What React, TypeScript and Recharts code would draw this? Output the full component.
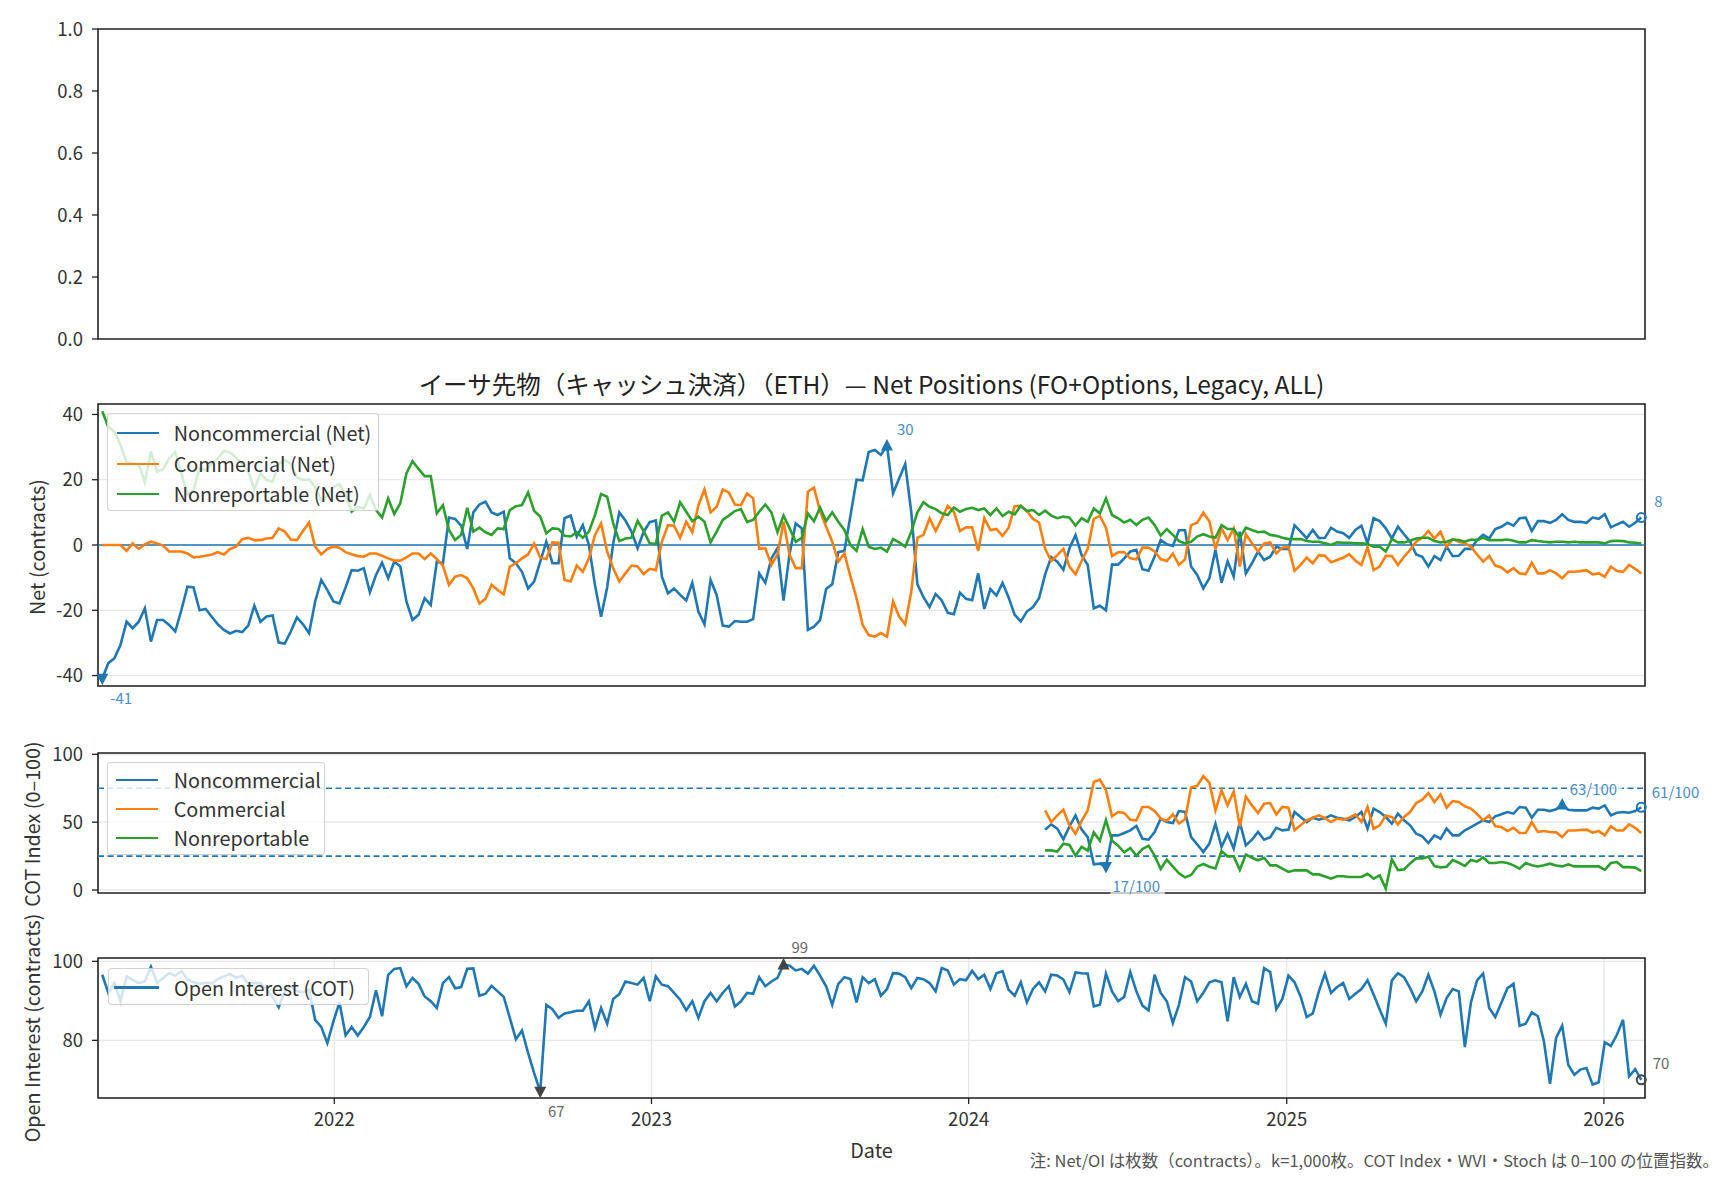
import React from "react";
import {
  LineChart,
  Line,
  XAxis,
  YAxis,
  CartesianGrid,
  ReferenceLine,
  ReferenceDot,
  ReferenceArea,
} from "recharts";

const FONT = "'Noto Sans CJK JP', 'Noto Sans', sans-serif";
const C0 = "#1f77b4";
const C1 = "#ff7f0e";
const C2 = "#2ca02c";
const SPINE = "#222";
const TXT = "#333";

const DAY = 86400000;
const WEEK = 7 * DAY;
const START = Date.UTC(2021, 3, 9);
const YEARS = [2022, 2023, 2024, 2025, 2026];
const YEAR_TICKS = YEARS.map((y) => Date.UTC(y, 0, 1));
const X_MIN = Date.UTC(2022, 0, 1) - 271.9 * DAY;
const X_MAX = Date.UTC(2026, 0, 1) + 47.3 * DAY;

// Net positions (contracts), weekly
const NONCOMM = [
  -41, -36.2, -34.7, -30.6, -23.5, -25.5, -23.5, -19.4, -29.6, -23,
  -23, -24.5, -26.5, -20, -12.8, -13, -20, -19.6, -22, -24.3,
  -26, -27.1, -26.3, -26.7, -24.7, -18.6, -23.5, -21.9, -21.6, -29.9,
  -30.2, -26.5, -22.2, -24.3, -27, -17.3, -10.7, -13.8, -17.3, -17.9,
  -13, -7.7, -7.9, -7.1, -14.5, -9.2, -5.4, -10.2, -5.1, -6.6,
  -17.3, -23, -21.4, -16.3, -18.4, -5.1, -5.6, 8.4, 8, 5.9,
  -1.2, 10, 12.4, 13.3, 10, 9.2, 10.2, -4.1, -5.6, -8.2,
  -13.3, -11.2, -5.1, 1, -5.6, -5.6, 8.2, 9, 2.6, 6.1,
  0, -12.3, -22, -13, 0.5, 10, 7.5, 4.1, -1, 4,
  7, 7.5, -9.7, -14.8, -13.3, -15.3, -17, -11.6, -20.4, -24.3,
  -10.7, -15.3, -24.7, -25, -23.3, -23.5, -23.5, -22.7, -8.7, -11.6,
  -4.1, -1, -17, -2.5, 6.6, 5.1, -26, -25, -23, -13.5,
  -12, -2.2, -1.8, 9, 20, 19.8, 28.5, 29.1, 27.6, 30.5,
  15.8, 20.4, 24.8, 10, -12, -16, -19, -15, -17, -20.8,
  -21.2, -14.6, -16.5, -16.9, -8.7, -19.6, -13.5, -15.5, -11.6, -16.1,
  -21.4, -23.4, -20.4, -19, -16.3, -9, -3.7, -5.1, -7.6, -1,
  3, -3.1, -6.1, -19.4, -18.6, -20, -6, -6, -4.1, -2,
  -1.5, -7.4, -7.9, -3.5, 1.5, 0.2, -0.3, 4.5, 4.5, -6.6,
  -9.2, -13.3, -10.2, -1.5, -11.6, -5, -9.7, 4.1, -8.7, -5.6,
  -2, -4.6, -3.6, -0.5, -1.2, -1.2, 6, 4.1, 2.1, 4.6,
  2.1, 2.2, 5.3, 4.1, 3.6, 2.2, 4.6, 5.9, 0.5, 8.2,
  7.3, 5.1, 2, 5.6, 3.3, 1, -2.9, -3.6, -6.6, -3.4,
  -4.6, -0.5, -3.4, -3.3, -1.2, -1.2, 1.5, 3.1, 2, 4.9,
  5.6, 6.8, 5.9, 8.2, 8.4, 4.3, 7.3, 7.3, 6.8, 7.7,
  9.4, 7.7, 7.1, 7.1, 6.8, 8.4, 8, 9.4, 5.4, 6.3,
  7.1, 5.6, 6.8, 8.4,
];

const COMM = [
  0, 0, 0, 0, -1.8, 0.5, -1.2, 0.2, 1, 0.5,
  -0.2, -2, -2, -2, -2.6, -3.8, -3.6, -3.3, -2.9, -2.2,
  -2.9, -1.2, -0.5, 1.8, 2.2, 1.5, 1.5, 2, 2.2, 5.1,
  4.1, 1.7, 1.5, 4.3, 6.9, -0.5, -2.9, -1.2, -0.5, -0.8,
  -2.2, -2.8, -3.4, -3.6, -2.6, -2.6, -3.3, -4.1, -4.8, -4.8,
  -3.8, -2.6, -2.6, -4.3, -2.6, -4.3, -6.3, -12.2, -9.7, -9.2,
  -10.2, -13.3, -17.9, -16.5, -12.2, -13.8, -15.1, -6.6, -5.6, -4.1,
  -2.9, 0.5, -3.9, -4.3, 0.8, 0.7, -10.7, -11.2, -6.3, -8.2,
  -4.1, 3.1, 6.6, -2, -7.1, -11.2, -8.7, -6.3, -6.6, -8.9,
  -7.3, -7.7, 1, 6.1, 5.9, 2.2, 7.1, 3.9, 12.2, 17,
  10, 11.7, 17, 16.1, 12.4, 12.2, 15.8, 14.3, -1.2, -1,
  -6.1, -2.9, 7.1, -3.1, -7.1, -7.1, 16.3, 17.6, 10.4, 5.6,
  1, -5.1, -2.6, -9.7, -16.3, -24.5, -27.6, -28.1, -27, -28.1,
  -17.3, -21.9, -24.3, -14.3, 2.2, 3.1, 8.2, 4.3, 8, 12,
  10.2, 4.3, 5.4, 5.4, -1.8, 8.2, 4.6, 4.9, 2.8, 5.3,
  11.9, 12, 10.4, 8, 6.9, -1.2, -4.9, -3.1, -1.2, -6.6,
  -9, -4.9, -1.2, 8, 8.9, 5.3, -3.4, -2.2, -2.2, -4.1,
  -4.4, -0.8, -0.8, -2, -4.3, -4.9, -2.6, -6.1, -4.4, 6.1,
  6.8, 9.9, 7.3, -1.3, 5.1, 1.5, 5.1, -6.6, 3.3, 0.5,
  -2, 0.5, 0.8, -2.6, -0.8, -0.5, -7.9, -6.1, -3.9, -5.6,
  -3.1, -3.3, -5.3, -4.6, -3.9, -2.8, -4.8, -6.1, -0.7, -7.7,
  -6.6, -3.3, -3.4, -6.1, -3.6, -1.5, 1, 2.2, 4.3, 2,
  4.1, -0.5, 1.8, 1, 0.5, -0.5, -2.9, -5.1, -3.3, -6.3,
  -6.9, -8.4, -7.1, -8.7, -8.9, -5.4, -8.7, -8.7, -7.7, -8.7,
  -10.2, -8.2, -8.2, -8, -7.7, -9, -8.7, -9.7, -6.6, -8,
  -8.2, -6.1, -7.3, -8.7,
];

const NONREP = [
  41, 36.2, 34.7, 30.6, 25.3, 25, 24.7, 19.2, 28.6, 22.5,
  23.2, 26.5, 28.5, 22, 15.4, 16.8, 23.6, 22.9, 24.9, 26.5,
  28.9, 28.3, 26.8, 24.9, 22.5, 17.1, 22, 19.9, 19.4, 24.8,
  26.1, 24.8, 20.7, 20, 20.1, 17.8, 13.6, 15, 17.8, 18.7,
  15.2, 10.2, 11.7, 11.2, 15.3, 10.7, 8.4, 14.3, 9.5, 12.8,
  21.9, 25.7, 23.3, 21.1, 21.1, 9.7, 12.2, 4.6, 1.5, 3.1,
  11.4, 4.1, 5.3, 3.9, 3.1, 5.1, 4.9, 10.7, 11.9, 12.2,
  16.1, 10.4, 8.7, 3.6, 5.1, 4.9, 2.8, 2.6, 3.9, 2.2,
  4.1, 9.2, 15.6, 14.8, 6.6, 1.2, 2, 2.2, 7.4, 4.3,
  0.5, 0.3, 9, 10, 7.1, 13.1, 10.2, 7.3, 8.7, 7.1,
  0.8, 4.1, 7.7, 9, 10.4, 11, 7.1, 7.7, 10.2, 12.4,
  10, 3.9, 9, 5.1, 1, 2.2, 9.7, 7.3, 11.5, 7.3,
  10, 7.1, 4.6, 0, -1.8, 4.9, -0.5, -1.2, -0.8, -2,
  1.8, 0.8, -0.5, 4.1, 10, 13.1, 11.7, 11, 9.7, 9.2,
  11.5, 10.2, 11, 11.4, 10.7, 11.2, 9.2, 11.2, 8.9, 10.2,
  9.4, 12, 10.4, 10.7, 9.2, 10.5, 9, 8.2, 8.7, 8.4,
  5.9, 8.2, 7.1, 11.2, 9.7, 14.3, 9.2, 8.2, 6.9, 7.7,
  6.1, 7.7, 8.4, 6.1, 2.9, 4.9, 3.1, 1.2, 0.5, 1,
  2.6, 3.3, 2.6, 2.2, 6.1, 4.9, 4.9, 2.2, 5.3, 4.6,
  3.9, 4.1, 3.1, 2.8, 2.2, 1.8, 1.8, 1.8, 1.2, 1,
  1, 0.5, 0, 0.8, 0.7, 0.7, 0.5, 0.5, 0.3, -0.5,
  -0.5, -2, 1.8, 0.8, 0.8, 1.3, 2, 2.2, 2.2, 1.2,
  0.8, 1, 1.7, 1.5, 1, 1.7, 1.5, 2.2, 1.5, 1.5,
  1.5, 1.7, 1.3, 0.8, 0.8, 1.5, 1.2, 1, 0.8, 1,
  1, 0.8, 1, 0.8, 0.8, 0.8, 0.8, 0.5, 1.2, 1.3,
  1.2, 0.8, 0.7, 0.5,
];

// Open interest (COT)
const OPEN_INT = [
  96.6, 92, 94.5, 89.9, 96.2, 95.4, 94.5, 94.9, 98.6, 94.5,
  95.8, 97, 96.4, 97.5, 95.5, 94.7, 94.3, 94.5, 94.5, 95.5,
  96.2, 96.8, 95.8, 96.4, 94.3, 94.5, 94.5, 93, 91, 88.4,
  92.4, 93.7, 92.4, 92.2, 92.8, 85.2, 83.4, 79.3, 84.8, 89.6,
  81.3, 83.4, 81.2, 83.4, 85.9, 92.7, 86.1, 96.6, 98.1, 98.3,
  93.7, 95.8, 94.3, 91.1, 89.9, 88.2, 94.5, 96, 93.2, 93.5,
  98.1, 98.2, 91.3, 91.8, 93.8, 92.4, 91, 85.7, 80.3, 82.5,
  76.8, 71.7, 67, 89, 87.9, 85.7, 86.8, 87.1, 87.5, 87.5,
  89.9, 83.1, 88.2, 84.2, 90.5, 91.7, 94.9, 94.5, 94.1, 95.8,
  89.9, 96.2, 94.1, 93.7, 92, 90.3, 87.6, 89.9, 85.7, 89.9,
  92, 89.9, 92, 93.7, 88.6, 89.9, 92, 91.8, 96, 93.7,
  94.9, 95.8, 99.2, 98.9, 97.7, 98.1, 96.9, 98.9, 96.4, 93.7,
  89, 94.3, 96, 95.5, 89.6, 96, 94.5, 95.5, 91.3, 93,
  97, 96.9, 96, 93.2, 95.8, 95.5, 94.5, 92.4, 98.3, 97.7,
  94.1, 95.5, 95.2, 97.6, 95.5, 96.6, 93, 97, 97.5, 92.8,
  91.3, 94.7, 89.6, 93, 94.7, 92.4, 96.6, 96.4, 95.4, 92.2,
  97.2, 97, 96.9, 88.6, 89, 96.9, 92.4, 89.9, 91, 97.3,
  92.4, 88.8, 87.6, 96.6, 92, 89.9, 84.4, 89, 96, 94.9,
  89.9, 92, 94.7, 95.2, 94.7, 84.8, 96, 91, 94.3, 89.9,
  89.3, 98.3, 97.3, 87.9, 90.5, 96.4, 94.7, 91.1, 85.9, 86.8,
  92.4, 96.9, 92, 93.5, 94.5, 90.5, 91.8, 93, 95.2, 91.6,
  87.8, 84.2, 95.2, 97, 96, 93.2, 89.9, 92.4, 96.6, 92.4,
  86.5, 90.7, 93, 92.4, 78.3, 89.6, 95.2, 96.9, 88.2, 85.9,
  89.5, 93.2, 94.3, 83.7, 84.2, 87.1, 86.1, 79.7, 69, 80.6,
  83.7, 73.8, 71.3, 72.6, 73, 68.8, 69.4, 79.5, 78.6, 81.4,
  85.2, 70.9, 72.7, 70,
];

// COT Index (0-100), starts at week 155
const COT_START = 155;
const COT_NONCOMM = [
  44.5, 48.4, 45.2, 37.3, 46.9, 55, 44.5, 39, 19, 19.4,
  17, 40.3, 40.3, 42, 44, 47.2, 37.8, 37.1, 42.8, 52.6,
  50.1, 49.4, 58.2, 57.5, 39, 33.7, 28, 34.2, 48.9, 31.7,
  41.5, 30.5, 50.1, 32.9, 37.1, 42.8, 37.1, 39, 45.9, 44,
  44.5, 57.5, 53.8, 50.1, 53.3, 51.8, 53, 55, 53.3, 52.6,
  51.4, 53.8, 57.5, 45.2, 60, 57.5, 53.8, 48.9, 56.3, 51.4,
  47.7, 41.5, 39.6, 34.6, 40.3, 37.8, 45.2, 40.3, 40.3, 44,
  46.4, 49, 51.4, 50.1, 54.3, 55.8, 57.5, 56.3, 61.2, 60.7,
  53.3, 59.2, 59.2, 58.2, 59.5, 63, 59.2, 58.7, 58.7, 58.7,
  60.7, 60, 62.4, 55, 57, 57.5, 57, 58.2, 61,
];
const COT_COMM = [
  58.7, 50.1, 55, 59.2, 47.7, 41.5, 50.9, 58.7, 79.6, 81.3,
  73.5, 54.3, 57.5, 56.8, 51.8, 51.4, 61.2, 61.2, 58.2, 52.6,
  50.9, 55.8, 49.1, 52.1, 75.7, 76.7, 84, 79.1, 58.7, 73.5,
  62.4, 72.7, 46.9, 68.8, 62.4, 56.8, 63.6, 64.1, 55.8, 61.2,
  60.7, 44, 47.7, 51.4, 53.3, 55, 53, 50.1, 52.6, 51.8,
  53.3, 55.8, 50.1, 61.2, 45.2, 47.7, 55, 53.8, 48.4, 53.8,
  57.5, 64.1, 66.6, 71.5, 64.9, 70.5, 60.7, 65.6, 64.9, 61.7,
  60, 56, 51.4, 55, 46.9, 46.4, 43.5, 45.9, 42, 42,
  50.1, 42.8, 43.5, 42.8, 42.5, 39, 43.9, 43.9, 44.2, 44.5,
  42.3, 43.5, 40.3, 46.9, 43.9, 43.9, 48.4, 45.9, 42,
];
const COT_NONREP = [
  29.2, 29.2, 28.3, 34.2, 33.2, 25.3, 31.9, 29, 42.5, 36.4,
  51.6, 36.4, 32.7, 27.8, 31, 25.3, 30.2, 32.7, 25.3, 15.5,
  22.4, 17.2, 12.3, 9.3, 11.1, 17.2, 19.2, 17.2, 15.9, 28.8,
  24.8, 24.8, 14.9, 26.2, 23.8, 21.9, 23.8, 18.2, 18.2, 15.7,
  13.3, 14.5, 14.5, 14.5, 11.5, 11.5, 10, 8.4, 10.1, 10.1,
  9.6, 9.6, 9.6, 12, 8.4, 10.8, 1, 22.6, 14.7, 15.2,
  19.6, 23.3, 23.3, 24.6, 17.7, 16.7, 17.2, 22.1, 20.1, 17.7,
  22.1, 21, 24, 19.9, 19.9, 20.6, 19.9, 18.2, 15.7, 19.9,
  18.2, 17.4, 18.2, 19.4, 18, 17.4, 18.9, 17.4, 17.4, 17.4,
  17.4, 17.4, 14.9, 19.9, 20.6, 16.9, 16.9, 16.5, 14,
];

const TITLE =
  "イーサ先物（キャッシュ決済）（ETH）— Net Positions (FO+Options, Legacy, ALL)";
const NOTE =
  "注: Net/OI は枚数（contracts）。k=1,000枚。COT Index・WVI・Stoch は 0–100 の位置指数。";

const rows = NONCOMM.map((v, i) => {
  const k = i - COT_START;
  return {
    t: START + i * WEEK,
    nc: v,
    cm: COMM[i],
    nr: NONREP[i],
    oi: OPEN_INT[i],
    cnc: k >= 0 ? COT_NONCOMM[k] : null,
    ccm: k >= 0 ? COT_COMM[k] : null,
    cnr: k >= 0 ? COT_NONREP[k] : null,
  };
});
const last = rows.length - 1;
const tAt = (i: number) => rows[i].t;

type MarkProps = {
  cx?: number;
  cy?: number;
  kind: "up" | "down" | "circle";
  color: string;
  text: string;
  textColor: string;
  dx: number;
  dy: number;
};

function Mark({ cx = 0, cy = 0, kind, color, text, textColor, dx, dy }: MarkProps) {
  const fs = 15;
  const tx = cx + dx;
  const ty = cy + dy;
  const w = text.length * fs * 0.56 + 4;
  return (
    <g>
      {kind === "up" && (
        <path d={`M${cx},${cy - 6.5} L${cx + 6},${cy + 5} L${cx - 6},${cy + 5} Z`} fill={color} />
      )}
      {kind === "down" && (
        <path d={`M${cx},${cy + 6.5} L${cx + 6},${cy - 5} L${cx - 6},${cy - 5} Z`} fill={color} />
      )}
      {kind === "circle" && (
        <circle cx={cx} cy={cy} r={4.5} fill="none" stroke={color} strokeWidth={2} />
      )}
      <rect x={tx - 2} y={ty - 9} width={w} height={18} fill="#fff" fillOpacity={0.7} />
      <text
        x={tx}
        y={ty}
        fontSize={fs}
        fill={textColor}
        fontFamily={FONT}
        dominantBaseline="central"
      >
        {text}
      </text>
    </g>
  );
}

const tickStyle = { fontSize: 18.5, fill: TXT, fontFamily: FONT };
const PLOT_LEFT_MARGIN = 38;
const PLOT_RIGHT_MARGIN = 83;
const LEGEND_FS = 19.8;
const LABEL_FS = 19.8;

function xAxisBare(h: number) {
  return (
    <XAxis
      dataKey="t"
      type="number"
      domain={[X_MIN, X_MAX]}
      allowDataOverflow
      ticks={YEAR_TICKS}
      interval={0}
      tick={false}
      tickLine={{ stroke: SPINE, strokeWidth: 1.3 }}
      tickSize={6}
      axisLine={false}
      height={h}
    />
  );
}

type LegendItem = { label: string; color: string };
function LegendBox({
  left,
  top,
  width,
  height,
  items,
  rowY,
  handle,
  textX,
}: {
  left: number;
  top: number;
  width: number;
  height: number;
  items: LegendItem[];
  rowY: number[];
  handle: [number, number];
  textX: number;
}) {
  return (
    <div
      style={{
        position: "absolute",
        left,
        top,
        width,
        height,
        background: "rgba(255,255,255,0.8)",
        border: "1px solid rgba(204,204,204,0.9)",
        borderRadius: 4,
        boxSizing: "border-box",
        fontFamily: FONT,
      }}
    >
      {items.map((it, i) => (
        <React.Fragment key={it.label}>
          <div
            style={{
              position: "absolute",
              left: handle[0],
              width: handle[1] - handle[0],
              top: rowY[i] - 1.3,
              height: 2.6,
              background: it.color,
            }}
          />
          <div
            style={{
              position: "absolute",
              left: textX,
              top: rowY[i] - 14,
              height: 28,
              lineHeight: "28px",
              fontSize: LEGEND_FS,
              color: TXT,
              whiteSpace: "nowrap",
            }}
          >
            {it.label}
          </div>
        </React.Fragment>
      ))}
    </div>
  );
}

export default function App() {
  const lineProps = {
    dot: false,
    isAnimationActive: false,
    strokeWidth: 2.6,
    type: "linear" as const,
  };
  const gridProps = { stroke: "#e6e6e6", strokeWidth: 1.3 };
  const frameProps = {
    fill: "none",
    fillOpacity: 0,
    stroke: SPINE,
    strokeWidth: 1.6,
    ifOverflow: "visible" as const,
  };

  return (
    <div
      style={{
        position: "absolute",
        left: 0,
        top: 0,
        width: 1728,
        height: 1180,
        background: "#fff",
        overflow: "hidden",
        fontFamily: FONT,
      }}
    >
      {/* Panel 1: empty */}
      <div style={{ position: "absolute", left: 0, top: 0 }}>
        <LineChart
          width={1728}
          height={360}
          data={rows}
          margin={{ top: 29, right: PLOT_RIGHT_MARGIN, bottom: 0, left: PLOT_LEFT_MARGIN }}
        >
          {xAxisBare(21)}
          <YAxis
            type="number"
            domain={[0, 1]}
            ticks={[0, 0.2, 0.4, 0.6, 0.8, 1]}
            interval={0}
            tickFormatter={(v: number) => v.toFixed(1)}
            tick={tickStyle}
            tickLine={{ stroke: SPINE, strokeWidth: 1.3 }}
            tickSize={6}
            tickMargin={9}
            axisLine={false}
            width={60}
            allowDataOverflow
          />
          <Line dataKey="none" stroke="none" {...lineProps} />
          <ReferenceArea x1={X_MIN} x2={X_MAX} y1={0} y2={1} {...frameProps} />
        </LineChart>
      </div>

      {/* Panel 2: Net positions */}
      <div style={{ position: "absolute", left: 0, top: 395 }}>
        <LineChart
          width={1728}
          height={320}
          data={rows}
          margin={{ top: 9, right: PLOT_RIGHT_MARGIN, bottom: 20, left: PLOT_LEFT_MARGIN }}
        >
          <CartesianGrid {...gridProps} />
          {xAxisBare(9)}
          <YAxis
            type="number"
            domain={[-43.2, 43.2]}
            ticks={[-40, -20, 0, 20, 40]}
            interval={0}
            tick={tickStyle}
            tickLine={{ stroke: SPINE, strokeWidth: 1.3 }}
            tickSize={6}
            tickMargin={9}
            axisLine={false}
            width={60}
            allowDataOverflow
          />
          <ReferenceLine y={0} stroke={C0} strokeWidth={1.7} />
          <Line dataKey="nc" stroke={C0} {...lineProps} />
          <Line dataKey="cm" stroke={C1} {...lineProps} />
          <Line dataKey="nr" stroke={C2} {...lineProps} />
          <ReferenceArea x1={X_MIN} x2={X_MAX} y1={-43.2} y2={43.2} {...frameProps} />
          <ReferenceDot
            x={tAt(129)}
            y={NONCOMM[129]}
            r={5}
            ifOverflow="visible"
            shape={(p: any) => (
              <Mark {...p} kind="up" color={C0} text="30" textColor="#4a8cc4" dx={10} dy={-17} />
            )}
          />
          <ReferenceDot
            x={tAt(0)}
            y={NONCOMM[0]}
            r={5}
            ifOverflow="visible"
            shape={(p: any) => (
              <Mark {...p} kind="down" color={C0} text="-41" textColor="#4a8cc4" dx={8} dy={18.5} />
            )}
          />
          <ReferenceDot
            x={tAt(last)}
            y={NONCOMM[last]}
            r={5}
            ifOverflow="visible"
            shape={(p: any) => (
              <Mark {...p} kind="circle" color={C0} text="8" textColor="#4a8cc4" dx={13} dy={-16.6} />
            )}
          />
        </LineChart>
      </div>

      {/* Panel 3: COT Index */}
      <div style={{ position: "absolute", left: 0, top: 730 }}>
        <LineChart
          width={1728}
          height={175}
          data={rows}
          margin={{ top: 23, right: PLOT_RIGHT_MARGIN, bottom: 0, left: PLOT_LEFT_MARGIN }}
        >
          <CartesianGrid {...gridProps} />
          {xAxisBare(12)}
          <YAxis
            type="number"
            domain={[-2.2, 101]}
            ticks={[0, 50, 100]}
            interval={0}
            tick={tickStyle}
            tickLine={{ stroke: SPINE, strokeWidth: 1.3 }}
            tickSize={6}
            tickMargin={9}
            axisLine={false}
            width={60}
            allowDataOverflow
          />
          <ReferenceLine y={75} stroke={C0} strokeWidth={1.6} strokeDasharray="6 3.5" />
          <ReferenceLine y={25} stroke={C0} strokeWidth={1.6} strokeDasharray="6 3.5" />
          <Line dataKey="cnc" stroke={C0} {...lineProps} />
          <Line dataKey="ccm" stroke={C1} {...lineProps} />
          <Line dataKey="cnr" stroke={C2} {...lineProps} />
          <ReferenceArea x1={X_MIN} x2={X_MAX} y1={-2.2} y2={101} {...frameProps} />
          <ReferenceDot
            x={tAt(165)}
            y={COT_NONCOMM[165 - COT_START]}
            r={5}
            ifOverflow="visible"
            shape={(p: any) => (
              <Mark {...p} kind="down" color={C0} text="17/100" textColor="#4a8cc4" dx={6.5} dy={18.4} />
            )}
          />
          <ReferenceDot
            x={tAt(240)}
            y={COT_NONCOMM[240 - COT_START]}
            r={5}
            ifOverflow="visible"
            shape={(p: any) => (
              <Mark {...p} kind="up" color={C0} text="63/100" textColor="#4a8cc4" dx={7.5} dy={-16} />
            )}
          />
          <ReferenceDot
            x={tAt(last)}
            y={COT_NONCOMM[last - COT_START]}
            r={5}
            ifOverflow="visible"
            shape={(p: any) => (
              <Mark {...p} kind="circle" color={C0} text="61/100" textColor="#4a8cc4" dx={10.5} dy={-16} />
            )}
          />
        </LineChart>
      </div>

      {/* Panel 4: Open interest */}
      <div style={{ position: "absolute", left: 0, top: 930 }}>
        <LineChart
          width={1728}
          height={220}
          data={rows}
          margin={{ top: 28, right: PLOT_RIGHT_MARGIN, bottom: 0, left: PLOT_LEFT_MARGIN }}
        >
          <CartesianGrid {...gridProps} />
          <XAxis
            dataKey="t"
            type="number"
            domain={[X_MIN, X_MAX]}
            allowDataOverflow
            ticks={YEAR_TICKS}
            interval={0}
            tickFormatter={(v: number) => String(new Date(v).getUTCFullYear())}
            tick={tickStyle}
            tickLine={{ stroke: SPINE, strokeWidth: 1.3 }}
            tickSize={6}
            tickMargin={9}
            axisLine={false}
            height={52}
          />
          <YAxis
            type="number"
            domain={[65.4, 100.85]}
            ticks={[80, 100]}
            interval={0}
            tick={tickStyle}
            tickLine={{ stroke: SPINE, strokeWidth: 1.3 }}
            tickSize={6}
            tickMargin={9}
            axisLine={false}
            width={60}
            allowDataOverflow
          />
          <Line dataKey="oi" stroke={C0} {...lineProps} />
          <ReferenceArea x1={X_MIN} x2={X_MAX} y1={65.4} y2={100.85} {...frameProps} />
          <ReferenceDot
            x={tAt(112)}
            y={OPEN_INT[112]}
            r={5}
            ifOverflow="visible"
            shape={(p: any) => (
              <Mark {...p} kind="up" color="#444" text="99" textColor="#666" dx={8} dy={-18.4} />
            )}
          />
          <ReferenceDot
            x={tAt(72)}
            y={OPEN_INT[72]}
            r={5}
            ifOverflow="visible"
            shape={(p: any) => (
              <Mark {...p} kind="down" color="#444" text="67" textColor="#666" dx={7.7} dy={19} />
            )}
          />
          <ReferenceDot
            x={tAt(last)}
            y={OPEN_INT[last]}
            r={5}
            ifOverflow="visible"
            shape={(p: any) => (
              <Mark {...p} kind="circle" color="#444" text="70" textColor="#666" dx={11.5} dy={-17.7} />
            )}
          />
        </LineChart>
      </div>

      {/* Legends */}
      <LegendBox
        left={107}
        top={413}
        width={272}
        height={98}
        items={[
          { label: "Noncommercial (Net)", color: C0 },
          { label: "Commercial (Net)", color: C1 },
          { label: "Nonreportable (Net)", color: C2 },
        ]}
        rowY={[19, 50, 80]}
        handle={[9, 51]}
        textX={65.7}
      />
      <LegendBox
        left={107}
        top={762}
        width={218}
        height={93}
        items={[
          { label: "Noncommercial", color: C0 },
          { label: "Commercial", color: C1 },
          { label: "Nonreportable", color: C2 },
        ]}
        rowY={[17, 46, 75]}
        handle={[8, 50]}
        textX={65.7}
      />
      <LegendBox
        left={108}
        top={968}
        width={261}
        height={37}
        items={[{ label: "Open Interest (COT)", color: C0 }]}
        rowY={[18.5]}
        handle={[5, 50]}
        textX={65}
      />

      {/* Texts */}
      <svg
        width={1728}
        height={1180}
        style={{ position: "absolute", left: 0, top: 0, pointerEvents: "none" }}
      >
        <text
          x={871.5}
          y={383.5}
          textAnchor="middle"
          dominantBaseline="central"
          fontSize={24.5}
          fill="#222"
          fontFamily={FONT}
        >
          {TITLE}
        </text>
        <text
          x={36.4}
          y={547}
          textAnchor="middle"
          dominantBaseline="central"
          fontSize={LABEL_FS}
          fill={TXT}
          fontFamily={FONT}
          transform="rotate(-90, 36.4, 547)"
        >
          Net (contracts)
        </text>
        <text
          x={31}
          y={824}
          textAnchor="middle"
          dominantBaseline="central"
          fontSize={LABEL_FS}
          fill={TXT}
          fontFamily={FONT}
          transform="rotate(-90, 31, 824)"
        >
          COT Index (0–100)
        </text>
        <text
          x={31}
          y={1028}
          textAnchor="middle"
          dominantBaseline="central"
          fontSize={LABEL_FS}
          fill={TXT}
          fontFamily={FONT}
          transform="rotate(-90, 31, 1028)"
        >
          Open Interest (contracts)
        </text>
        <text
          x={871.5}
          y={1149}
          textAnchor="middle"
          dominantBaseline="central"
          fontSize={LABEL_FS}
          fill={TXT}
          fontFamily={FONT}
        >
          Date
        </text>
        <text
          x={1719}
          y={1160}
          textAnchor="end"
          dominantBaseline="central"
          fontSize={16.5}
          fill="#555"
          fontFamily={FONT}
        >
          {NOTE}
        </text>
      </svg>
    </div>
  );
}
